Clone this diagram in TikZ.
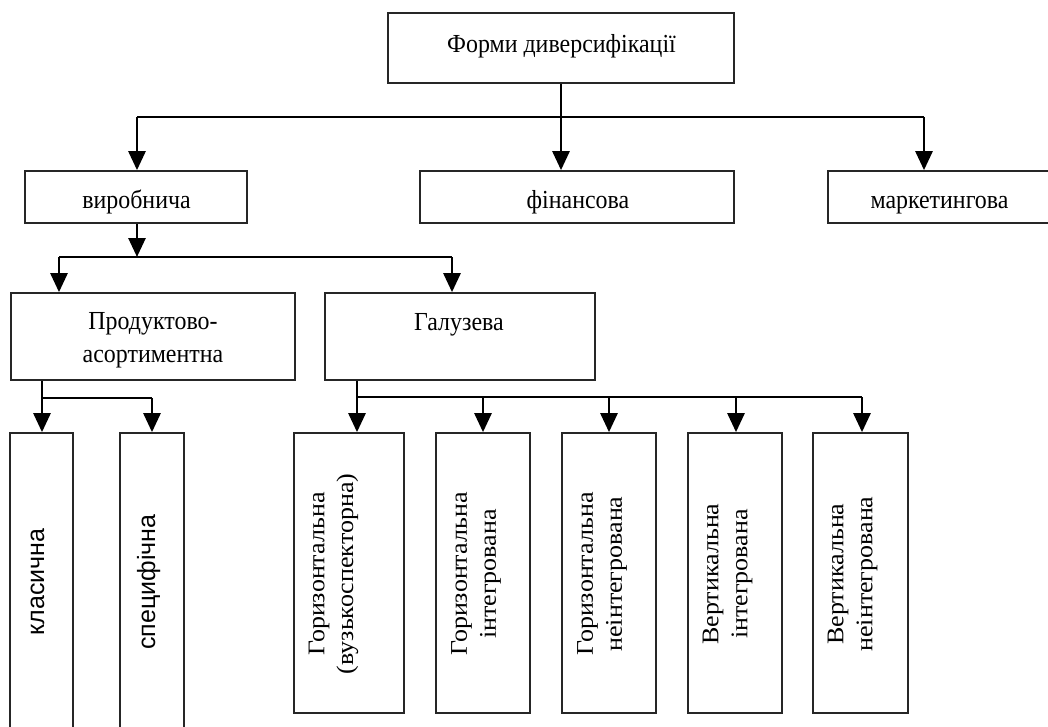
\documentclass[tikz,border=0pt]{standalone}
\usepackage{fontspec}
\setmainfont{Liberation Serif}
\newfontfamily\sansf{Liberation Sans}
\usetikzlibrary{arrows.meta}
\begin{document}
\begin{tikzpicture}[x=1pt,y=-1pt,
  box/.style={draw=black!85, line width=1.7pt, inner sep=0pt},
  htext/.style={inner sep=0pt, align=center, xscale=0.92, transform shape,
    font=\fontsize{26}{33}\selectfont},
  conn/.style={line width=2.7pt},
  arr/.style={conn, -{Triangle[width=17pt,length=19pt]}},
  vtext/.style={rotate=90, yscale=0.92, transform shape, align=center, inner sep=0pt,
    font=\fontsize{26}{31.5}\selectfont},
  stext/.style={rotate=90, inner sep=0pt, anchor=base, font=\sansf\fontsize{25}{30}\selectfont},
]
\useasboundingbox (0,0) rectangle (1048,727);
\clip (0,0) rectangle (1048,727);

% level 0
\node[box, minimum width=346pt, minimum height=70pt] (top) at (561,48) {};
\node[htext, anchor=base] (ttop) at (561.5,53) {Форми диверсифікації};
% level 1
\node[box, minimum width=222pt, minimum height=52pt] (vyr) at (136,197) {};
\node[box, minimum width=314pt, minimum height=52pt] (fin) at (577,197) {};
\node[box, minimum width=224pt, minimum height=52pt] (mark) at (940,197) {};
\node[htext, anchor=base] (tvyr) at (136.5,208) {виробнича};
\node[htext, anchor=base] (tfin) at (578,208) {фінансова};
\node[htext, anchor=base] (tmark) at (939.5,208) {маркетингова};
% level 2
\node[box, minimum width=284pt, minimum height=87pt] (prod) at (153,336.5) {};
\node[box, minimum width=270pt, minimum height=87pt] (hal) at (460,336.5) {};
\node[htext] (tprod) at (153,340.5) {Продуктово-\\асортиментна};
\node[htext, anchor=base] (thal) at (459,330) {Галузева};
% level 3 left
\node[box, minimum width=63pt, minimum height=298pt] (kl) at (41.5,582) {};
\node[box, minimum width=64pt, minimum height=298pt] (sp) at (152,582) {};
\node[stext] (tkl) at (44,582) {класична};
\node[stext] (tsp) at (155,582) {специфічна};
% level 3 right
\node[box, minimum width=110pt, minimum height=280pt] (g1) at (349,573) {};
\node[box, minimum width=94pt, minimum height=280pt] (g2) at (483,573) {};
\node[box, minimum width=94pt, minimum height=280pt] (g3) at (609,573) {};
\node[box, minimum width=94pt, minimum height=280pt] (g4) at (735,573) {};
\node[box, minimum width=95pt, minimum height=280pt] (g5) at (860.5,573) {};
\node[vtext] (tg1) at (333.5,574) {Горизонтальна\\(вузькоспекторна)};
\node[vtext] (tg2) at (476,574) {Горизонтальна\\інтегрована};
\node[vtext] (tg3) at (602,574) {Горизонтальна\\неінтегрована};
\node[vtext] (tg4) at (727.5,574) {Вертикальна\\інтегрована};
\node[vtext] (tg5) at (852.5,574) {Вертикальна\\неінтегрована};

% connectors level 0 -> 1
\coordinate (j0) at (561,117);
\coordinate (j0L) at (137,117);
\coordinate (j0R) at (924,117);
\draw[conn] (top.south) -- (j0);
\draw[conn] (j0L) -- (j0R);
\draw[arr] (j0L) -- (j0L |- vyr.north);
\draw[arr] (j0) -- (j0 |- fin.north);
\draw[arr] (j0R) -- (j0R |- mark.north);

% vyr -> level 2
\coordinate (j1) at (137,257);
\coordinate (j1L) at (59,257);
\coordinate (j1R) at (452,257);
\draw[arr] (j1 |- vyr.south) -- (j1);
\draw[conn] (j1L) -- (j1R);
\draw[arr] (j1L) -- (j1L |- prod.north);
\draw[arr] (j1R) -- (j1R |- hal.north);

% prod -> left level 3
\coordinate (j2L) at (42,398);
\coordinate (j2R) at (152,398);
\draw[arr] (j2L |- prod.south) -- (j2L |- kl.north);
\draw[conn] (j2L) -- (j2R);
\draw[arr] (j2R) -- (j2R |- sp.north);

% hal -> right level 3
\coordinate (j3L) at (357,397);
\coordinate (j3a) at (483,397);
\coordinate (j3b) at (609,397);
\coordinate (j3c) at (736,397);
\coordinate (j3R) at (862,397);
\draw[arr] (j3L |- hal.south) -- (j3L |- g1.north);
\draw[conn] (j3L) -- (j3R);
\draw[arr] (j3a) -- (j3a |- g2.north);
\draw[arr] (j3b) -- (j3b |- g3.north);
\draw[arr] (j3c) -- (j3c |- g4.north);
\draw[arr] (j3R) -- (j3R |- g5.north);
\end{tikzpicture}
\end{document}
